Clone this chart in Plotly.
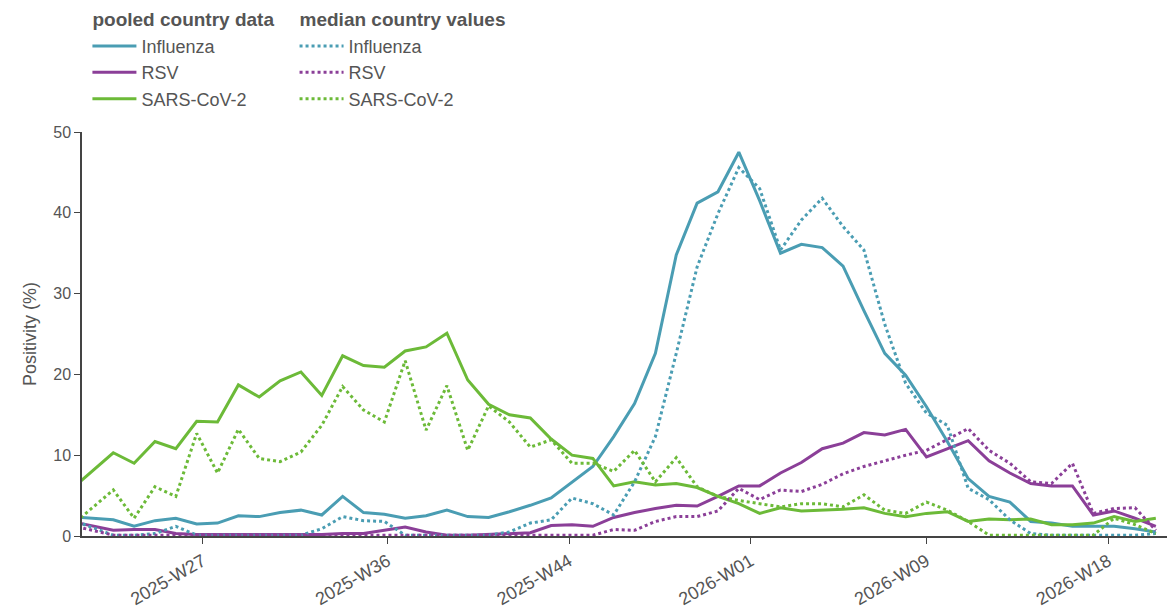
import datetime as dt
import plotly.graph_objects as go

# ISO weeks of the data (values plotted at the Sunday ending each week)
weeks = ["2025-W20"] + [f"2025-W{w:02d}" for w in range(22, 53)] + [f"2026-W{w:02d}" for w in range(1, 21)]

flu_pooled = [2.4, 2.0, 1.2, 1.9, 2.2, 1.5, 1.6, 2.5, 2.4, 2.9, 3.2, 2.6, 4.9, 2.9, 2.7, 2.2, 2.5, 3.2,
              2.4, 2.3, 3.0, 3.8, 4.7, 6.7, 8.6, 12.3, 16.4, 22.6, 34.8, 41.2, 42.6, 47.5,
              41.5, 35.0, 36.1, 35.7, 33.4, 27.9, 22.6, 19.9, 16.0, 11.7, 7.1, 4.9, 4.2, 1.8, 1.6, 1.2, 1.2, 1.2, 0.9, 0.5]
rsv_pooled = [1.8, 0.7, 0.8, 0.8, 0.3, 0.2, 0.2, 0.2, 0.2, 0.2, 0.2, 0.2, 0.3, 0.3, 0.7, 1.1, 0.5, 0.1,
              0.1, 0.2, 0.3, 0.4, 1.3, 1.4, 1.2, 2.3, 2.9, 3.4, 3.8, 3.7, 4.9, 6.2,
              6.2, 7.8, 9.1, 10.8, 11.5, 12.8, 12.5, 13.2, 9.8, 10.8, 11.8, 9.3, 7.8, 6.5, 6.2, 6.2, 2.6, 3.1, 2.2, 1.2]
sars_pooled = [5.8, 10.3, 9.0, 11.7, 10.8, 14.2, 14.1, 18.7, 17.2, 19.2, 20.3, 17.4, 22.3, 21.1, 20.9, 22.9, 23.4, 25.1,
               19.3, 16.3, 15.0, 14.6, 12.0, 10.0, 9.6, 6.2, 6.7, 6.3, 6.5, 6.0, 4.9, 4.0,
               2.8, 3.5, 3.1, 3.2, 3.3, 3.5, 2.8, 2.4, 2.8, 3.0, 1.8, 2.1, 2.0, 2.1, 1.4, 1.4, 1.6, 2.4, 1.8, 2.2]

flu_median = [2.0, 0.1, 0.1, 0.3, 1.2, 0.1, 0.1, 0.1, 0.1, 0.1, 0.1, 0.9, 2.4, 1.9, 1.8, 0.1, 0.1, 0.1,
              0.1, 0.1, 0.5, 1.6, 2.0, 4.7, 4.0, 2.6, 6.7, 12.3, 22.6, 33.3, 39.9, 45.6,
              43.0, 35.4, 39.1, 41.8, 38.3, 35.4, 26.2, 18.9, 15.2, 13.7, 5.9, 4.5, 2.0, 0.3, 0.1, 0.1, 0.1, 0.1, 0.1, 0.3]
rsv_median = [1.3, 0.1, 0.1, 0.1, 0.1, 0.1, 0.1, 0.1, 0.1, 0.1, 0.1, 0.1, 0.1, 0.1, 0.1, 0.1, 0.1, 0.1,
              0.1, 0.1, 0.1, 0.1, 0.1, 0.1, 0.1, 0.8, 0.7, 1.8, 2.4, 2.4, 3.1, 5.9,
              4.5, 5.7, 5.5, 6.4, 7.7, 8.6, 9.3, 10.0, 10.6, 11.9, 13.3, 10.6, 9.0, 6.7, 6.5, 9.0, 2.8, 3.4, 3.5, 0.7]
sars_median = [1.3, 5.7, 2.2, 6.1, 4.9, 12.7, 7.8, 13.2, 9.6, 9.2, 10.4, 13.7, 18.5, 15.6, 14.1, 21.7, 13.1, 18.6,
               10.6, 16.1, 14.1, 11.0, 11.9, 9.0, 9.0, 8.0, 10.6, 6.7, 9.7, 6.1, 4.9, 4.4,
               4.0, 3.6, 4.0, 4.0, 3.6, 5.1, 3.2, 2.8, 4.2, 3.2, 1.8, 0.1, 0.1, 0.1, 0.1, 0.1, 0.1, 2.2, 1.4, 0.3]

tick_dates = ["2025-07-01", "2025-09-01", "2025-11-01", "2026-01-01", "2026-03-01", "2026-05-01"]

def week_end(label):
    y, w = label.split("-W")
    return dt.date.fromisocalendar(int(y), int(w), 7)

def iso_label(d):
    c = dt.date.fromisoformat(d).isocalendar()
    return f"{c[0]}-W{c[1]:02d}"

x = [week_end(w) for w in weeks]

colors = {"Influenza": "#4a9db3", "RSV": "#8b3f98", "SARS-CoV-2": "#6cba38"}
font = "Liberation Sans, Arial, sans-serif"
grey = "#555555"
title_font = dict(size=19, color=grey, family=font, weight="bold")
nbsp = "\u00a0"

fig = go.Figure()
for name, ys in [("Influenza", flu_pooled), ("RSV", rsv_pooled), ("SARS-CoV-2", sars_pooled)]:
    fig.add_trace(go.Scatter(x=x, y=ys, mode="lines", name=name,
                             line=dict(color=colors[name], width=3),
                             legendgroup="pooled",
                             legendgrouptitle=dict(text="pooled country data" + nbsp * 2, font=title_font)))
for name, ys in [("Influenza", flu_median), ("RSV", rsv_median), ("SARS-CoV-2", sars_median)]:
    fig.add_trace(go.Scatter(x=x, y=ys, mode="lines", name=name,
                             line=dict(color=colors[name], width=3, dash="dot"),
                             legendgroup="median",
                             legendgrouptitle=dict(text="median country values", font=title_font)))

fig.update_layout(
    width=1168, height=610,
    margin=dict(l=82, r=1, t=131, b=74),
    paper_bgcolor="white", plot_bgcolor="white",
    font=dict(family=font, size=16, color=grey),
    legend=dict(orientation="h", traceorder="grouped", x=0.005, xanchor="left",
                y=1.325, yanchor="top", font=dict(size=18, color=grey, family=font),
                itemwidth=44, bgcolor="rgba(0,0,0,0)"),
    showlegend=True,
)
fig.update_xaxes(type="date", range=["2025-05-21 12:00", "2026-05-20 18:00"],
                 tickvals=tick_dates, ticktext=[iso_label(d) for d in tick_dates],
                 tickangle=-30, ticks="outside", ticklen=6, tickcolor="#444",
                 showline=True, linecolor="#444", linewidth=1.5, showgrid=False, zeroline=False,
                 tickfont=dict(size=18, color=grey, family=font))
fig.update_yaxes(range=[0, 50], dtick=10, ticks="outside", ticklen=6, tickcolor="#444",
                 showline=True, linecolor="#444", linewidth=1.5, showgrid=False, zeroline=False,
                 title=dict(text="Positivity (%)", font=dict(size=18, color=grey, family=font), standoff=12),
                 tickfont=dict(size=16, color=grey, family=font))

fig.write_html("out.html")
